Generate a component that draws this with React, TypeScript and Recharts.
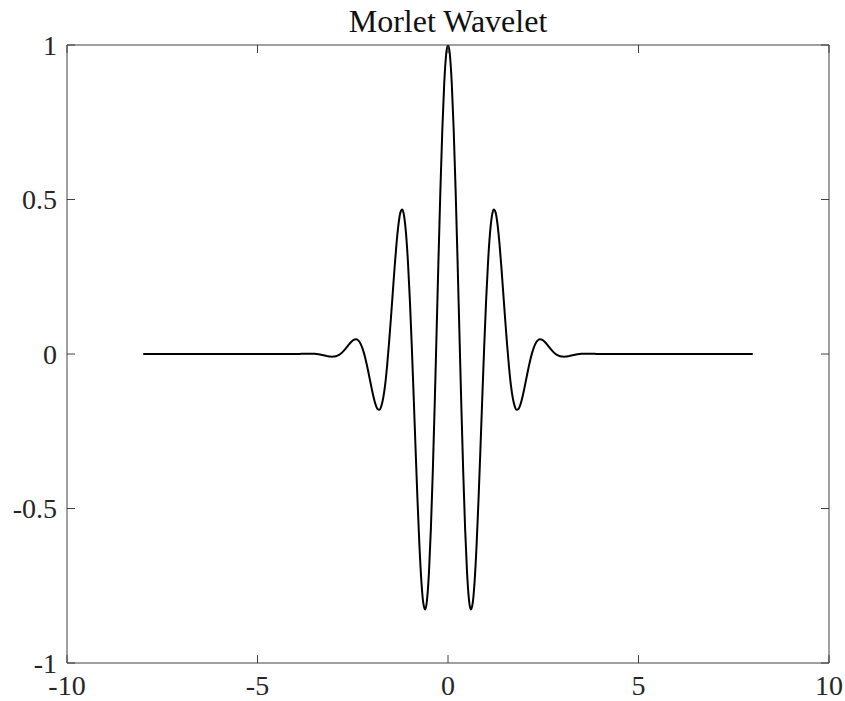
import React from "react";
import { LineChart, Line, XAxis, YAxis, ReferenceLine } from "recharts";

const xValues: number[] = [
  -8, -7.5, -7, -6.5, -6, -5.5, -5, -4.5, -4, -3.9, -3.8, -3.7, -3.6, -3.5, -3.4, -3.3, -3.2,
  -3.15, -3.1, -3.05, -3, -2.95, -2.9, -2.85, -2.8, -2.75, -2.7, -2.65, -2.6, -2.55, -2.5,
  -2.45, -2.4, -2.35, -2.3, -2.25, -2.2, -2.15, -2.1, -2.05, -2, -1.95, -1.9, -1.85, -1.8,
  -1.75, -1.7, -1.65, -1.6, -1.55, -1.5, -1.45, -1.4, -1.35, -1.3, -1.25, -1.2, -1.15, -1.1,
  -1.05, -1, -0.95, -0.9, -0.85, -0.8, -0.75, -0.7, -0.65, -0.6, -0.55, -0.5, -0.45, -0.4,
  -0.35, -0.3, -0.25, -0.2, -0.15, -0.1, -0.05,
  0,
  0.05, 0.1, 0.15, 0.2, 0.25, 0.3, 0.35, 0.4, 0.45, 0.5, 0.55, 0.6, 0.65, 0.7, 0.75, 0.8,
  0.85, 0.9, 0.95, 1, 1.05, 1.1, 1.15, 1.2, 1.25, 1.3, 1.35, 1.4, 1.45, 1.5, 1.55, 1.6, 1.65,
  1.7, 1.75, 1.8, 1.85, 1.9, 1.95, 2, 2.05, 2.1, 2.15, 2.2, 2.25, 2.3, 2.35, 2.4, 2.45, 2.5,
  2.55, 2.6, 2.65, 2.7, 2.75, 2.8, 2.85, 2.9, 2.95, 3, 3.05, 3.1, 3.15,
  3.2, 3.3, 3.4, 3.5, 3.6, 3.7, 3.8, 3.9, 4, 4.5, 5, 5.5, 6, 6.5, 7, 7.5, 8,
];

const yValues: number[] = [
  0, 0, 0, 0, 0, 0, 0, 0, 0.0001, 0.0003, 0.0007, 0.001, 0.001, 0.0005, -0.0009, -0.0031, -0.0057,
  -0.007, -0.008, -0.0086, -0.0084, -0.0074, -0.0053, -0.002, 0.0027, 0.0086, 0.0155, 0.0232,
  0.0309, 0.0381, 0.0438, 0.0473, 0.0474, 0.0433, 0.0343, 0.0201, 0.0004, -0.0241, -0.0524,
  -0.083, -0.1136, -0.1416, -0.164, -0.1779, -0.1803, -0.1688, -0.1419, -0.0996, -0.0405,
  0.0325, 0.1125, 0.1979, 0.283, 0.3592, 0.4195, 0.4575, 0.4674, 0.4446, 0.387, 0.2951,
  0.1721, 0.0239, -0.1406, -0.3108, -0.4746, -0.6194, -0.733, -0.8048, -0.8269, -0.7946,
  -0.707, -0.5677, -0.3842, -0.1677, 0.0676, 0.3056, 0.5296, 0.7235, 0.8732, 0.9677,
  1,
  0.9677, 0.8732, 0.7235, 0.5296, 0.3056, 0.0676, -0.1677, -0.3842, -0.5677, -0.707, -0.7946,
  -0.8269, -0.8048, -0.733, -0.6194, -0.4746, -0.3108, -0.1406, 0.0239, 0.1721, 0.2951,
  0.387, 0.4446, 0.4674, 0.4575, 0.4195, 0.3592, 0.283, 0.1979, 0.1125, 0.0325, -0.0405,
  -0.0996, -0.1419, -0.1688, -0.1803, -0.1779, -0.164, -0.1416, -0.1136, -0.083, -0.0524,
  -0.0241, 0.0004, 0.0201, 0.0343, 0.0433, 0.0474, 0.0473, 0.0438, 0.0381, 0.0309, 0.0232,
  0.0155, 0.0086, 0.0027, -0.002, -0.0053, -0.0074, -0.0084, -0.0086, -0.008, -0.007,
  -0.0057, -0.0031, -0.0009, 0.0005, 0.001, 0.001, 0.0007, 0.0003, 0.0001, 0, 0, 0, 0, 0, 0, 0, 0,
];

const xTicks: number[] = [-10, -5, 0, 5, 10];
const yTicks: number[] = [-1, -0.5, 0, 0.5, 1];
const title = "Morlet Wavelet";

const data = xValues.map((x, i) => ({ x, y: yValues[i] }));

const FONT = "'Liberation Serif', 'Times New Roman', serif";
const AXIS_COLOR = "#404040";
const TEXT_COLOR = "#262626";

const W = 845;
const H = 701;
const MARGIN = { top: 45, right: 16, left: 7, bottom: 0 };
const Y_AXIS_W = 60;
const X_AXIS_H = 38;
const PLOT_LEFT = MARGIN.left + Y_AXIS_W;
const PLOT_RIGHT = W - MARGIN.right;
const PLOT_TOP = MARGIN.top;
const PLOT_BOTTOM = H - MARGIN.bottom - X_AXIS_H;
const TICK_LEN = 8;

const XTick = (props: any) => {
  const { x, y, payload } = props;
  return (
    <g>
      <line x1={x} x2={x} y1={PLOT_BOTTOM} y2={PLOT_BOTTOM - TICK_LEN} stroke={AXIS_COLOR} strokeWidth={1} />
      <line x1={x} x2={x} y1={PLOT_TOP} y2={PLOT_TOP + TICK_LEN} stroke={AXIS_COLOR} strokeWidth={1} />
      <text
        x={x}
        y={y + 32}
        textAnchor="middle"
        fontFamily={FONT}
        fontSize={28}
        fill={TEXT_COLOR}
      >
        {String(payload.value)}
      </text>
    </g>
  );
};

const YTick = (props: any) => {
  const { y, payload } = props;
  return (
    <g>
      <line x1={PLOT_LEFT} x2={PLOT_LEFT + TICK_LEN} y1={y} y2={y} stroke={AXIS_COLOR} strokeWidth={1} />
      <line x1={PLOT_RIGHT} x2={PLOT_RIGHT - TICK_LEN} y1={y} y2={y} stroke={AXIS_COLOR} strokeWidth={1} />
      <text
        x={PLOT_LEFT - 10}
        y={y}
        dy="0.35em"
        textAnchor="end"
        fontFamily={FONT}
        fontSize={28}
        fill={TEXT_COLOR}
      >
        {String(payload.value)}
      </text>
    </g>
  );
};

export default function App() {
  return (
    <div style={{ position: "absolute", left: 0, top: 0, width: W, height: H, background: "#fff" }}>
      <div
        style={{
          position: "absolute",
          left: PLOT_LEFT,
          width: PLOT_RIGHT - PLOT_LEFT,
          top: 5,
          textAlign: "center",
          fontFamily: FONT,
          fontSize: 32,
          lineHeight: "32px",
          color: "#111",
        }}
      >
        {title}
      </div>
      <LineChart width={W} height={H} data={data} margin={MARGIN}>
        <XAxis
          dataKey="x"
          type="number"
          domain={[-10, 10]}
          ticks={xTicks}
          interval={0}
          allowDataOverflow
          height={X_AXIS_H}
          tickSize={0}
          tickMargin={0}
          tickLine={false}
          stroke={AXIS_COLOR}
          tick={XTick}
        />
        <YAxis
          type="number"
          domain={[-1, 1]}
          ticks={yTicks}
          interval={0}
          allowDataOverflow
          width={Y_AXIS_W}
          tickSize={0}
          tickMargin={0}
          tickLine={false}
          stroke={AXIS_COLOR}
          tick={YTick}
        />
        <ReferenceLine y={1} stroke={AXIS_COLOR} strokeWidth={1} ifOverflow="extendDomain" />
        <ReferenceLine x={10} stroke={AXIS_COLOR} strokeWidth={1} ifOverflow="extendDomain" />
        <Line
          type="monotone"
          dataKey="y"
          stroke="#000"
          strokeWidth={2}
          dot={false}
          isAnimationActive={false}
        />
      </LineChart>
    </div>
  );
}
